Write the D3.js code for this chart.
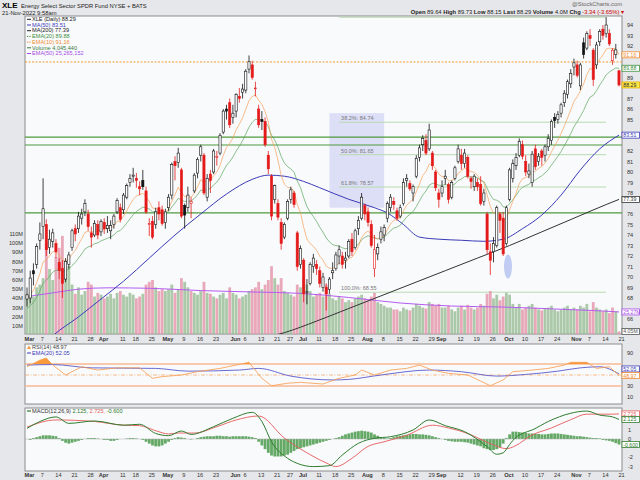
<!DOCTYPE html>
<html>
<head>
<meta charset="utf-8">
<script src="https://d3js.org/d3.v7.min.js"></script>
<style>
  body { margin: 0; background: #e6e7ea; }
  text { font-family: "Liberation Sans", Arial, sans-serif; }
</style>
</head>
<body>
<div id="chart"></div>
<script>
const W = 640, H = 480;

// ---- data ----
const holidays = ["2022-04-15", "2022-05-30", "2022-06-20", "2022-07-04", "2022-09-05"];
const opens = [
  67.9,68.0,70.6,71.2, 73.5,74.8,75.0,72.8,73.4, 73.2,71.4,70.8,69.8,71.2, 72.8,74.6,74.6,75.6,76.2, 76.0,74.2,74.0,75.0,
  74.3, 75.2,74.6,74.4,75.0,76.2, 76.6,76.4,77.6,79.0, 79.6,79.4,78.6,79.2,78.2, 75.0,75.3,75.0,76.6,76.4,
  75.2,76.6,77.8,81.0,80.9, 80.2,76.8,76.6,77.0,78.2, 79.9,81.6,81.6,77.6,79.8, 80.0,81.4,81.8,83.8,86.0, 86.6,
  85.2,85.8,87.2, 87.6,87.8,89.8,90.2,88.0, 86.0,85.0,84.8,81.6,79.6, 77.4,77.0,75.2,73.8, 75.6,77.4,78.0,74.2,
  71.2, 71.6,68.6,69.4,71.0, 71.2,70.6,69.0,69.0,68.8, 70.4,70.8,72.0,72.0,71.6, 72.0,73.6,72.8,74.6,75.6,
  76.8,76.2,75.0,70.8,72.2, 73.6,74.0,75.6,76.6,77.2, 76.3,75.8,77.0,79.2,78.9, 78.0,79.6,81.4,82.6,83.0, 82.2,81.8,80.0,
  78.0,78.0, 79.4,78.8,77.6,79.4, 81.0,81.6,80.8,81.4,79.4, 78.6,79.0,78.8,77.2,76.0, 72.4,72.4,73.0,76.0,75.6,
  73.2,77.4,79.4,80.6,81.6, 82.6,81.0,79.8,79.0,82.2, 81.0,82.0,81.6,82.4,83.0, 85.2,85.0,85.6,86.6,87.4, 88.4,
  90.0,90.2,88.2,92.3, 91.8,93.0,91.6,90.2,92.4, 93.6,93.2,93.2,90.6,91.2, 89.64
];
const highs = [
  69.0,70.6,71.3,73.2, 75.2,79.4,75.5,74.5,74.6, 73.6,71.8,71.6,71.8,72.4, 74.6,75.0,76.2,76.5,77.4, 76.4,74.8,75.4,75.4,
  75.5, 75.6,75.8,75.4,76.0,77.5, 77.0,78.0,78.9,79.8, 80.4,79.9,79.1,80.2,78.6, 75.6,75.8,76.6,77.2,76.8,
  76.5,77.9,80.9,81.5,82.3, 80.4,77.0,78.6,77.6,79.9, 81.4,82.6,81.8,79.8,80.2, 82.2,82.0,83.7,86.0,86.4, 87.0,
  86.4,87.5,88.0, 88.4,89.8,91.1,90.6,88.6, 86.4,85.8,85.2,82.0,79.8, 78.8,77.4,75.6,75.2, 77.4,78.6,78.2,74.4,
  73.0, 71.8,69.8,71.4,72.2, 71.6,71.0,70.4,69.4,70.0, 71.4,72.4,73.0,72.4,72.4, 73.6,74.2,74.6,75.8,78.0,
  77.0,76.6,75.4,74.0,73.2, 74.8,75.0,77.2,77.9,77.6, 76.6,76.9,79.4,79.8,79.2, 78.8,81.6,82.6,83.5,83.6, 84.6,82.0,80.2,
  78.4,79.2, 80.2,79.0,79.2,80.6, 82.6,82.2,82.2,81.6,79.6, 79.8,79.4,79.6,78.4,76.2, 73.2,73.8,76.8,76.2,76.2,
  76.8,80.4,81.2,81.8,83.2, 83.0,81.6,80.8,82.0,82.6, 81.8,82.2,82.6,83.6,85.0, 85.6,85.8,86.6,87.8,88.8, 89.8,
  90.8,90.6,90.4,92.8, 93.4,93.6,91.8,92.4,93.6, 94.0,94.74,93.6,91.8,92.2, 89.73
];
const lows = [
  67.2,67.5,69.2,70.8, 72.6,73.6,72.0,72.2,72.8, 71.8,69.8,68.0,69.5,70.8, 72.5,73.4,74.2,75.0,75.8, 74.4,72.8,73.8,73.6,
  73.9, 74.1,74.2,73.6,74.6,76.0, 75.2,76.0,77.4,78.6, 79.0,78.5,77.8,78.3,76.0, 73.9,73.6,74.6,75.4,74.9,
  74.6,76.3,77.4,79.2,80.4, 75.6,74.6,76.2,75.6,78.0, 79.4,81.0,77.8,77.2,78.0, 79.8,80.6,81.6,83.6,85.0, 84.2,
  84.6,85.2,86.6, 87.0,87.5,89.4,88.8,87.2, 84.2,84.0,82.4,79.8,75.4, 77.0,75.4,72.6,73.6, 75.4,77.0,76.6,70.6,
  70.8, 67.6,67.4,69.2,70.4, 70.2,69.0,68.6,66.8,68.4, 69.8,70.6,71.2,70.8,70.8, 71.8,72.0,72.6,74.0,75.4,
  75.4,74.8,72.8,70.0,71.6, 73.2,73.4,75.2,76.2,76.4, 75.4,75.6,76.8,78.6,78.2, 77.2,79.4,81.0,82.0,81.6, 82.0,80.2,78.2,
  76.6,77.6, 78.8,77.0,77.4,79.2, 80.8,80.2,80.4,79.4,78.4, 78.2,78.2,76.8,76.8,72.2, 70.2,71.4,72.8,74.2,72.0,
  73.0,77.2,79.0,80.2,81.4, 81.2,79.6,79.4,78.6,80.2, 80.6,80.6,81.0,82.0,82.6, 84.2,84.6,85.2,86.2,87.0, 88.0,
  89.2,89.0,87.8,90.8, 91.6,92.0,88.2,89.8,92.0, 92.6,92.8,92.0,90.2,90.8, 88.15
];
const closes = [
  68.3,69.9,70.3,72.9, 74.1,76.5,72.6,73.6,74.2, 72.4,70.6,69.4,71.5,72.1, 74.4,74.1,75.8,76.0,77.0, 74.8,73.8,75.1,74.0,
  75.3, 74.6,74.9,74.9,75.8,77.3, 75.5,77.8,78.7,79.4, 79.7,79.2,78.4,78.6,76.2, 75.1,73.8,76.2,76.0,75.1,
  76.2,77.6,80.7,80.6,81.8, 75.8,75.9,77.8,77.2,79.7, 81.2,82.4,78.0,79.4,79.2, 82.0,81.5,83.5,85.8,85.8, 84.5,
  85.6,87.4,87.0, 87.9,89.6,90.5,89.0,88.0, 84.5,84.8,82.6,80.3,75.8, 78.7,75.7,73.2,75.0, 77.2,78.3,76.9,71.0,
  72.7, 68.4,68.6,71.2,71.8, 70.8,69.4,70.0,68.4,69.8, 70.6,72.1,72.6,71.2,71.8, 73.4,72.4,74.4,75.4,77.6,
  76.0,75.2,73.0,72.6,72.8, 74.3,74.7,77.0,77.6,76.9, 75.6,76.6,79.0,79.4,78.4, 78.6,81.3,82.3,83.2,81.8, 84.0,80.6,78.5,
  77.4,78.6, 79.6,77.4,79.0,80.4, 82.2,80.8,81.8,79.6,79.1, 79.6,78.6,77.0,78.0,72.6, 71.6,73.2,76.6,75.4,72.2,
  76.6,80.2,80.8,81.4,82.9, 81.5,80.0,80.1,81.7,80.5, 81.5,81.4,82.4,83.2,84.8, 84.9,85.5,86.4,87.5,88.6, 89.4,
  90.4,89.2,90.2,91.2, 93.2,92.7,88.8,92.1,93.4, 93.0,94.0,92.2,91.6,91.63, 88.29
];
// volume, millions of shares
const volumes = [
  45,48,42,52, 55,62,100,72,60, 85,95,108,62,75, 55,45,52,44,48, 58,55,42,46,
  44, 40,42,45,40,46, 48,44,42,46, 44,40,42,45,55, 58,60,52,48,50,
  48,50,55,46,50, 62,58,52,48,46, 44,48,58,46,45, 42,40,44,46,40, 52,
  46,44,40, 42,44,48,50,52, 58,50,55,60,75, 62,55,62,48, 46,44,42,55,
  52, 62,55,48,42, 44,46,42,55,45, 40,38,42,40,36, 38,36,40,42,44,
  40,38,42,46,36, 34,32,30,30,28, 28,26,30,28,27, 30,34,32,30,29, 36,34,32,
  34,30, 30,32,28,26, 30,32,28,33,30, 28,30,34,32,45, 48,40,44,38,42,
  46,44,34,30,34, 28,30,32,34,30, 28,27,29,30,32, 28,26,28,30,32, 28,
  30,28,32,30, 34,26,36,30,28, 26,28,24,30,26, 4.05
];
const ema10 = [
  68.0,68.35,68.7,69.46, 70.3,71.43,71.64,72.0,72.4, 72.4,72.07,71.58,71.57,71.67, 72.17,72.52,73.12,73.64,74.25, 74.35,74.25,74.41,74.33,
  74.51, 74.53,74.6,74.65,74.86,75.3, 75.34,75.79,76.32,76.88, 77.39,77.72,77.84,77.97,77.65, 77.19,76.57,76.51,76.42,76.18,
  76.18,76.44,77.21,77.83,78.55, 78.05,77.66,77.69,77.6,77.98, 78.57,79.27,79.04,79.11,79.13, 79.65,79.99,80.63,81.57,82.34, 82.73,
  83.25,84.0,84.55, 85.16,85.97,86.79,87.19,87.34, 86.82,86.45,85.75,84.76,83.13, 82.32,81.12,79.68,78.83, 78.53,78.5,78.21,76.9,
  76.14, 74.73,73.62,73.18,72.93, 72.54,71.97,71.61,71.03,70.84, 70.8,71.04,71.33,71.3,71.39, 71.76,71.88,72.34,72.9,73.75,
  74.17,74.36,74.11,73.83,73.64, 73.76,73.93,74.49,75.06,75.4, 75.44,75.66,76.27,76.84,77.13, 77.4,78.11,78.87,79.66,80.04, 80.76,80.73,80.32,
  79.79,79.57, 79.58,79.18,79.15,79.38, 79.89,80.06,80.38,80.24,80.03, 79.96,79.71,79.22,79.0,77.84, 76.72,76.08,76.18,76.04,75.35,
  75.57,76.41,77.21,77.98,78.88, 79.35,79.47,79.58,79.97,80.07, 80.33,80.52,80.86,81.28,81.92, 82.47,83.02,83.67,84.37,85.14, 85.9,
  86.72,87.17,87.74,88.39, 89.26,89.88,89.7,90.15,90.74, 91.15,91.7,91.79,91.76,91.74, 91.16
];
const ema20 = [
  67.0,67.28,67.57,68.08, 68.65,69.4,69.7,70.07,70.46, 70.65,70.64,70.52,70.61,70.75, 71.1,71.38,71.8,72.2,72.66, 72.86,72.97,73.17,73.25,
  73.44, 73.56,73.69,73.81,74.0,74.31, 74.43,74.75,75.13,75.53, 75.93,76.24,76.45,76.65,76.61, 76.47,76.21,76.21,76.19,76.09,
  76.1,76.24,76.66,77.04,77.49, 77.33,77.19,77.25,77.24,77.48, 77.83,78.27,78.24,78.35,78.43, 78.77,79.03,79.47,80.07,80.62, 80.99,
  81.43,81.99,82.46, 82.98,83.61,84.27,84.72,85.03, 84.98,84.96,84.73,84.31,83.5, 83.05,82.35,81.48,80.86, 80.51,80.3,79.98,79.13,
  78.52, 77.56,76.71,76.18,75.76, 75.29,74.73,74.28,73.72,73.35, 73.09,72.99,72.95,72.78,72.69, 72.76,72.72,72.88,73.12,73.55,
  73.78,73.92,73.83,73.71,73.63, 73.69,73.79,74.09,74.42,74.66, 74.75,74.93,75.32,75.71,75.97, 76.22,76.7,77.25,77.81,78.19, 78.74,78.92,78.88,
  78.74,78.73, 78.81,78.67,78.7,78.86, 79.18,79.33,79.56,79.56,79.52, 79.53,79.44,79.21,79.09,78.48, 77.82,77.38,77.31,77.13,76.67,
  76.66,76.99,77.36,77.75,78.24, 78.55,78.69,78.83,79.1,79.24, 79.45,79.64,79.9,80.22,80.66, 81.07,81.49,81.96,82.49,83.06, 83.66,
  84.31,84.78,85.3,85.86, 86.56,87.14,87.3,87.74,88.28, 88.73,89.24,89.52,89.72,89.91, 89.88
];
// sparse readings: [day index, value]
const ma50 = [[0,61.8],[8,64.4],[16,66.2],[23,67.9],[30,69.6],[38,71.8],[46,74],[54,76],[62,77.9],[70,79.3],[75,79.7],[80,79.6],[86,79.1],[91,78.5],[100,77.4],[108,76.6],[112,76.1],[117,75],[122,73.8],[128,73.6],[135,73.5],[142,73.4],[148,73.6],[154,74.6],[160,75.9],[166,77.8],[172,80.2],[178,82.2],[184,83.51]];
const ma200 = [[70,64.0],[80,64.7],[90,65.8],[100,67.0],[110,68.2],[120,69.4],[130,70.6],[140,71.8],[150,73.0],[160,74.3],[170,75.6],[180,76.9],[184,77.39]];
const volEma50 = [[0,42],[8,46],[16,50],[25,51.5],[38,51],[54,48.5],[70,47],[85,45.5],[100,41],[116,35],[132,31.7],[148,30.6],[164,28.5],[176,26.8],[184,25.27]];
const rsi = [[0,65],[4,77],[6,81],[8,68],[12,50],[17,65],[22,59],[28,63],[35,63],[39,44],[42,47],[48,50],[53,56],[60,62],[69,73],[73,44],[76,30.5],[81,35],[85,36.7],[92,33.6],[97,44],[102,50],[104,59],[108,50],[113,59],[118,62],[122,68],[126,59],[131,53],[137,50],[144,30.5],[148,41],[151,56],[157,59],[162,62],[167,68],[169,73],[174,73],[177,62],[181,65],[184,48.97]];
const rsiEma = [[0,68],[8,69],[20,63],[40,62],[50,57],[66,59],[72,62],[82,48],[95,41],[100,42],[110,50],[125,59],[135,56],[146,48],[155,51],[165,57],[172,63],[178,65],[184,52.05]];
const macd = [[0,1.16],[4,1.9],[9,2.4],[13,1.7],[21,1.96],[30,1.5],[35,1.6],[40,0.6],[44,0.36],[48,0.87],[51,0.5],[58,1.34],[64,2.25],[70,2.9],[73,1.9],[76,-0.3],[81,-2.1],[84,-2.65],[89,-3.0],[94,-2.9],[98,-1.74],[103,-0.47],[108,0.08],[113,0.25],[120,0.98],[125,2.07],[130,1.45],[136,0.8],[143,-0.83],[146,-1.66],[148,-1.5],[150,-0.6],[152,0.2],[154,0.6],[157,0.98],[162,1.9],[169,2.8],[174,3.04],[178,2.6],[182,2.4],[184,2.125]];
const signal = [[0,1.3],[9,2.07],[21,1.9],[30,1.5],[35,1.45],[40,0.9],[44,0.55],[47,0.65],[52,0.65],[59,1.34],[65,2.07],[72,2.5],[80,0.1],[88,-1.7],[93,-2.6],[96,-3.0],[101,-2.1],[106,-0.8],[111,-0.3],[118,0.4],[126,1.5],[131,1.2],[137,0.6],[144,-0.5],[149,-1.05],[153,-0.5],[156,0.25],[163,1.2],[169,2.1],[174,2.7],[182,2.7],[184,2.725]];
const hist = [
  0,-0.1, 0.1,0.2,0.3,0.4,0.4,0.4,0.35,0.3, 0.1,-0.2,-0.4,-0.5,-0.4, -0.3,-0.2,-0.1,0,0.1, 0.1,0.1,0.05,0,-0.1,
  -0.1,-0.2,-0.2,-0.1,0,0, 0.05,0.1,0.1,0.05,0,-0.1, -0.3,-0.5,-0.7,-0.8,-0.8,-0.7,-0.5,-0.3,-0.1,
  0.1,0.2,0.15,0.1,0,-0.05,0,0.1,
  0.2,0.25,0.3,0.3,0.3,0.35,0.35,0.3,0.3,0.25,0.3,0.3,0.3,0.3,0.3,0.25,0.2,0.1,
  -0.3,-0.7,-1.1,-1.5,-1.8,-1.9,-1.9,-1.9,-1.8,-1.7,-1.5,
  -1.3,-1.1,-1.0,-0.9,-0.8,-0.7,-0.6,-0.5,-0.4,-0.3,-0.2,-0.1,0,
  0.1,0.2,0.35,0.5,0.6,0.7,0.8,0.85,0.9,0.85,0.8,0.7,
  0.5,0.35,0.2,0.1,0.05,0.1,0.2,
  0.3,0.35,0.4,0.45,0.5,0.55,0.55,0.5,0.5,0.45,0.4,
  0.3,0.2,0.1,0,-0.1,
  -0.2,-0.25,-0.3,-0.3,-0.3,-0.35,-0.4,-0.5,-0.6,-0.7,
  -0.8,-1.0,-1.1,-1.2,-1.2,-1.1,-0.9,-0.5,
  0.1,0.5,0.8,0.8,0.75,0.7,0.65,
  0.6,0.6,0.55,0.55,0.5,0.5,0.55,0.6,0.6,0.6,0.55,0.5,0.45,0.4,0.35,
  0.3,0.3,0.25,0.2,0.15,0.1,0.1,0.05,
  -0.1,-0.15,-0.2,-0.3,-0.45,-0.6
];

const fibLevels = ["0.0%", "38.2%", "50.0%", "61.8%", "100.0%"];
const fibValues = [94.74, 84.74, 81.65, 78.57, 68.55];
const greenLines = [83.33, 82.57, 76.1];
const orangeLine = 90.48;

// ---- layout ----
const fmt = d3.timeFormat("%Y-%m-%d");
const days = d3.timeDay.range(new Date(2022, 2, 1), new Date(2022, 10, 22))
  .filter(d => d.getDay() !== 0 && d.getDay() !== 6 && !holidays.includes(fmt(d)));

const L = 25, R = 622;
const mainP = {t: 16, b: 334}, rsiP = {t: 344, b: 404}, macdP = {t: 408, b: 471};

const x = d3.scaleLinear().domain([0, days.length - 1]).range([27, 619]);
const yP = d3.scaleLinear().domain([66, 94]).range([319, 25]);
const yV = d3.scaleLinear().domain([0, 110]).range([335.2, 234]);
const yR = d3.scaleLinear().domain([30, 70]).range([386, 364]);
const yM = d3.scaleLinear().domain([-3, 1]).range([466.6, 429.8]);

const svg = d3.select("#chart").append("svg")
  .attr("width", W).attr("height", H)
  .style("background", "#e6e7ea");

const defs = svg.append("defs");
[["clipMain", mainP], ["clipRsi", rsiP], ["clipMacd", macdP]].forEach(([id, p]) => {
  defs.append("clipPath").attr("id", id).append("rect")
    .attr("x", L).attr("y", p.t).attr("width", R - L).attr("height", p.b - p.t);
});
defs.append("clipPath").attr("id", "clipOver70").append("rect")
  .attr("x", L).attr("y", rsiP.t).attr("width", R - L).attr("height", yR(70) - rsiP.t);

// panels
[mainP, rsiP, macdP].forEach(p => {
  svg.append("rect").attr("x", L).attr("y", p.t).attr("width", R - L).attr("height", p.b - p.t)
    .attr("fill", "#f9fafc").attr("stroke", "#8c8c8c").attr("stroke-width", 1);
});

// header
svg.append("text").attr("x", 2).attr("y", 8).attr("font-size", 8).attr("font-weight", "bold").text("XLE");
svg.append("text").attr("x", 21).attr("y", 7.5).attr("font-size", 5.8).attr("fill", "#222")
  .text("Energy Select Sector SPDR Fund NYSE + BATS");
svg.append("text").attr("x", 2).attr("y", 14.5).attr("font-size", 5.8).attr("fill", "#222").text("21-Nov-2022 9:58am");
svg.append("text").attr("x", 622).attr("y", 6).attr("font-size", 5.8).attr("fill", "#666")
  .attr("text-anchor", "end").text("@StockCharts.com");
const quote = svg.append("text").attr("x", 624).attr("y", 13.5).attr("font-size", 5.8)
  .attr("text-anchor", "end").attr("fill", "#222");
[["Open", " 89.64 "], ["High", " 89.73 "], ["Low", " 88.15 "], ["Last", " 88.29 "], ["Volume", " 4.0M "], ["Chg", " -3.34 (-3.65%) \u25BE"]]
  .forEach(([k, v]) => {
    quote.append("tspan").attr("font-weight", "bold").text(k);
    quote.append("tspan").attr("fill", k === "Chg" ? "#c00" : "#222").text(v);
  });

// ---- main panel ----
const gm = svg.append("g").attr("clip-path", "url(#clipMain)");

// fib shaded box and lines
gm.append("rect").attr("x", x(94)).attr("y", yP(85.6)).attr("width", x(111) - x(94)).attr("height", yP(76.6) - yP(85.6))
  .attr("fill", "#c9cdf3").attr("opacity", 0.6);
gm.selectAll(".fib").data(fibValues).join("line")
  .attr("x1", x(97)).attr("x2", x(180)).attr("y1", d => yP(d)).attr("y2", d => yP(d))
  .attr("stroke", "#b9dab0").attr("stroke-width", 1);
gm.selectAll(".fibt").data(fibValues).join("text")
  .attr("x", x(97) + 2).attr("y", d => yP(d) - 2).attr("font-size", 5.5).attr("fill", "#777")
  .text((d, i) => fibLevels[i] + ": " + d.toFixed(2));

// volume
gm.selectAll(".vol").data(volumes).join("rect")
  .attr("x", (d, i) => x(i) - 1.4).attr("width", 2.8)
  .attr("y", d => yV(d)).attr("height", d => yV(0) - yV(d))
  .attr("fill", (d, i) => (i && closes[i] < closes[i - 1]) ? "#e493a8" : "#97bd93")
  .attr("opacity", 0.8);

const lineP = d3.line().x(d => x(d[0])).y(d => yP(d[1])).curve(d3.curveMonotoneX);
const lineDaily = d3.line().x((d, i) => x(i)).y(d => yP(d));
gm.append("path").datum(volEma50).attr("fill", "none").attr("stroke", "#b45cf0").attr("stroke-width", 1)
  .attr("d", d3.line().x(d => x(d[0])).y(d => yV(d[1])).curve(d3.curveMonotoneX));

// horizontal levels
gm.selectAll(".gl").data(greenLines).join("line")
  .attr("x1", L).attr("x2", R).attr("y1", d => yP(d)).attr("y2", d => yP(d))
  .attr("stroke", "#4c9a3c").attr("stroke-width", 1.2);
gm.append("line").attr("x1", L).attr("x2", R).attr("y1", yP(orangeLine)).attr("y2", yP(orangeLine))
  .attr("stroke", "#f29a2e").attr("stroke-width", 1).attr("stroke-dasharray", "2,1.5");

gm.append("path").datum(ma200).attr("fill", "none").attr("stroke", "#333").attr("stroke-width", 1).attr("d", lineP);
gm.append("path").datum(ma50).attr("fill", "none").attr("stroke", "#3b3bb8").attr("stroke-width", 1).attr("d", lineP);
gm.append("path").datum(ema20).attr("fill", "none").attr("stroke", "#5ca55c").attr("stroke-width", 0.7).attr("d", lineDaily);
gm.append("path").datum(ema10).attr("fill", "none").attr("stroke", "#f5a05a").attr("stroke-width", 0.7).attr("d", lineDaily);

gm.append("ellipse").attr("cx", x(149.5)).attr("cy", yP(71)).attr("rx", 4).attr("ry", 12)
  .attr("fill", "#aab8f0").attr("opacity", 0.7);

// candles
const candle = gm.selectAll(".c").data(closes).join("g");
const col = i => (i && closes[i] < closes[i - 1]) ? "#e41a1a" : "#111";
candle.append("line")
  .attr("x1", (d, i) => x(i)).attr("x2", (d, i) => x(i))
  .attr("y1", (d, i) => yP(highs[i])).attr("y2", (d, i) => yP(lows[i]))
  .attr("stroke", (d, i) => col(i)).attr("stroke-width", 0.8);
candle.append("rect")
  .attr("x", (d, i) => x(i) - 1.1).attr("width", 2.2)
  .attr("y", (d, i) => yP(Math.max(opens[i], closes[i])))
  .attr("height", (d, i) => Math.max(0.8, Math.abs(yP(opens[i]) - yP(closes[i]))))
  .attr("fill", (d, i) => closes[i] < opens[i] ? col(i) : "#fff")
  .attr("stroke", (d, i) => col(i)).attr("stroke-width", 0.6);

// main legend
const lg = [
  ["XLE (Daily) 88.29", "#222"], ["MA(50) 83.51", "#3b3bb8"], ["MA(200) 77.39", "#222"],
  ["EMA(20) 89.88", "#3d8f3d"], ["EMA(10) 91.16", "#f08a30"], ["Volume 4,045,440", "#3d7a3d"], ["EMA(50) 25,265,152", "#a64ce6"]
];
lg.forEach(([t, c], i) => {
  const yy = 21 + i * 5.7;
  svg.append("line").attr("x1", 27).attr("x2", 31).attr("y1", yy - 1.7).attr("y2", yy - 1.7)
    .attr("stroke", c).attr("stroke-width", 1).attr("stroke-dasharray", (i === 3 || i === 4) ? "1,0.7" : null);
  svg.append("text").attr("x", 32).attr("y", yy).attr("font-size", 5.6).attr("fill", c).text(t);
});

// right axis labels, main
const boxes = [
  [91.16, "91.16", "#f08a30", "#fff"], [89.88, "89.88", "#3d8f3d", "#fff"], [88.29, "88.29", "#e0b000", "#ffe94a"],
  [83.51, "83.51", "#3b3bb8", "#fff"], [77.39, "77.39", "#333", "#fff"]
];
const taken = boxes.map(b => yP(b[0])).concat([yV(25.27), yV(4.05)]);
d3.range(66, 95).forEach(v => {
  const yy = yP(v);
  if (taken.some(t => Math.abs(t - yy) < 5.5)) return;
  svg.append("text").attr("x", 627).attr("y", yy + 2).attr("font-size", 5.6).attr("fill", "#333").text(v);
});
function box(yy, label, stroke, fill) {
  svg.append("rect").attr("x", 622).attr("y", yy - 3).attr("width", 17.5).attr("height", 6)
    .attr("fill", fill).attr("stroke", stroke).attr("stroke-width", 0.8);
  svg.append("text").attr("x", 623.3).attr("y", yy + 2).attr("font-size", 5.2)
    .attr("fill", stroke === "#e0b000" ? "#222" : stroke).text(label);
}
boxes.forEach(b => box(yP(b[0]), b[1], b[2], b[3]));
box(yV(25.27), "25.27M", "#a64ce6", "#fff");
box(yV(4.05), "4.05M", "#555", "#fff");

// volume axis labels on left
d3.range(10, 111, 10).forEach(v => {
  svg.append("text").attr("x", 23).attr("y", yV(v) + 2).attr("font-size", 5.6).attr("fill", "#333")
    .attr("text-anchor", "end").text(v + "M");
});

// date labels: month starts in bold, first trading day of each week otherwise
const ticks = [];
days.forEach((d, i) => {
  const prev = days[i - 1];
  if (i === 0 || d.getMonth() !== prev.getMonth()) ticks.push({i, label: d3.timeFormat("%b")(d), bold: true});
  else if (d.getDay() < prev.getDay()) ticks.push({i, label: String(d.getDate()), bold: false});
});
const monthIdx = ticks.filter(t => t.bold).map(t => t.i);
const tickList = ticks.filter(t => t.bold || !monthIdx.some(m => Math.abs(m - t.i) <= 2));
[341, 476.5].forEach(yy => {
  svg.selectAll(null).data(tickList).join("text")
    .attr("x", d => x(d.i) + 2.5).attr("y", yy).attr("text-anchor", "middle")
    .attr("font-size", 5.6).attr("font-weight", d => d.bold ? "bold" : null).attr("fill", "#333")
    .text(d => d.label);
});

// ---- RSI panel ----
const gr = svg.append("g").attr("clip-path", "url(#clipRsi)");
[70, 30].forEach(v => gr.append("line").attr("x1", L).attr("x2", R).attr("y1", yR(v)).attr("y2", yR(v))
  .attr("stroke", "#f8b894").attr("stroke-width", 1.5));
gr.append("line").attr("x1", L).attr("x2", R).attr("y1", yR(50)).attr("y2", yR(50))
  .attr("stroke", "#f7a86a").attr("stroke-width", 0.8).attr("stroke-dasharray", "4,1.5,1,1.5");
gr.append("path").datum(rsi).attr("clip-path", "url(#clipOver70)").attr("fill", "#f79a3c")
  .attr("d", d3.area().x(d => x(d[0])).y0(yR(70)).y1(d => yR(d[1])));
gr.append("path").datum(rsiEma).attr("fill", "none").attr("stroke", "#5a5acc").attr("stroke-width", 0.9)
  .attr("d", d3.line().x(d => x(d[0])).y(d => yR(d[1])).curve(d3.curveMonotoneX));
gr.append("path").datum(rsi).attr("fill", "none").attr("stroke", "#f79a4a").attr("stroke-width", 0.8)
  .attr("d", d3.line().x(d => x(d[0])).y(d => yR(d[1])));
svg.append("text").attr("x", 32).attr("y", 349).attr("font-size", 5.6).attr("fill", "#444").text("RSI(14) 48.97");
svg.append("path").attr("d", "M27,349 L29,345.5 L31,349 Z").attr("fill", "#f79a3c");
svg.append("line").attr("x1", 27).attr("x2", 31).attr("y1", 353).attr("y2", 353).attr("stroke", "#3b3bb8");
svg.append("text").attr("x", 32).attr("y", 355).attr("font-size", 5.6).attr("fill", "#3b3bb8").text("EMA(20) 52.05");
[90, 30, 10].forEach(v => svg.append("text").attr("x", 627).attr("y", yR(v) + 2)
  .attr("font-size", 5.6).attr("fill", "#333").text(v));
box(yR(61), "52.05", "#3b3bb8", "#fff");
box(yR(48.97), "48.97", "#f08a30", "#fff");

// ---- MACD panel ----
const gc = svg.append("g").attr("clip-path", "url(#clipMacd)");
gc.selectAll(".h").data(hist).join("rect")
  .attr("x", (d, i) => x(i) - 1.4).attr("width", 2.8)
  .attr("y", d => Math.min(yM(0), yM(d))).attr("height", d => Math.abs(yM(d) - yM(0)))
  .attr("fill", "#4a9a4a").attr("opacity", 0.85);
gc.append("line").attr("x1", L).attr("x2", R).attr("y1", yM(0)).attr("y2", yM(0)).attr("stroke", "#aaa").attr("stroke-width", 0.5);
gc.append("path").datum(signal).attr("fill", "none").attr("stroke", "#e65a5a").attr("stroke-width", 0.9)
  .attr("d", d3.line().x(d => x(d[0])).y(d => yM(d[1])).curve(d3.curveMonotoneX));
gc.append("path").datum(macd).attr("fill", "none").attr("stroke", "#2e7d2e").attr("stroke-width", 1)
  .attr("d", d3.line().x(d => x(d[0])).y(d => yM(d[1])).curve(d3.curveMonotoneX));
svg.append("line").attr("x1", 27).attr("x2", 31).attr("y1", 411).attr("y2", 411).attr("stroke", "#2e7d2e").attr("stroke-width", 1.2);
const ml = svg.append("text").attr("x", 32).attr("y", 413).attr("font-size", 5.6);
ml.append("tspan").attr("fill", "#333").text("MACD(12,26,9) ");
ml.append("tspan").attr("fill", "#2e7d2e").text("2.125, ");
ml.append("tspan").attr("fill", "#e65a5a").text("2.725, ");
ml.append("tspan").attr("fill", "#2e7d2e").text("-0.600");
[1, 0, -2, -3].forEach(v => svg.append("text").attr("x", 628).attr("y", yM(v) + 2)
  .attr("font-size", 5.6).attr("fill", "#333").text(v));
box(yM(2.725), "2.725", "#e65a5a", "#fff");
box(yM(2.125), "2.125", "#2e7d2e", "#fff");
box(yM(-0.6), "-0.600", "#2e7d2e", "#fff");
</script>
</body>
</html>
